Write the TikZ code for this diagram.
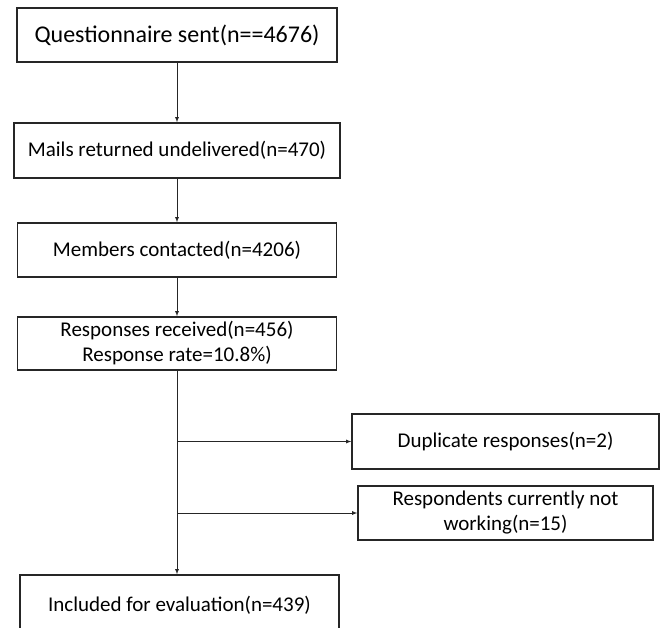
\documentclass[tikz,border=0pt]{standalone}
\usepackage{fontspec}
\setmainfont{Carlito}
\usepackage{tikz}
\usetikzlibrary{arrows,positioning}

\tikzset{
  flowbox/.style={draw=black!85, line width=1.4pt, rectangle, align=center,
    inner sep=2pt, font=\fontsize{21}{25}\selectfont},
  flowline/.style={draw=black!85, line width=0.8pt, -latex}
}

\begin{document}
\begin{tikzpicture}[x=1pt,y=-1pt]
				\useasboundingbox (0,0) rectangle (660,627);
				% main column
				\node[flowbox, minimum width=320pt, minimum height=54pt, font=\fontsize{24}{28}\selectfont] (sent) at (177,35) {Questionnaire sent(n==4676)};
				\node[flowbox, minimum width=326pt, minimum height=55pt] (mails) at (177,150.5) {Mails returned undelivered(n=470)};
				\node[flowbox, minimum width=319pt, minimum height=54pt] (contacted) at (177,250) {Members contacted(n=4206)};
				\node[flowbox, minimum width=319pt, minimum height=53pt] (received) at (177,343.5) {Responses received(n=456)\\Response rate=10.8\%)};
				\node[flowbox, minimum width=319pt, minimum height=60pt] (included) at (179.5,605) {Included for evaluation(n=439)};
				% excluded
				\node[flowbox, minimum width=307pt, minimum height=55pt] (duplicate) at (505.5,441.5) {Duplicate responses(n=2)};
				\node[flowbox, minimum width=295pt, minimum height=54pt] (notworking) at (505.5,513) {Respondents currently not\\working(n=15)};

				\coordinate (bot) at (received.south |- included.north);
				\coordinate (b1) at (received.south |- duplicate.west);
				\coordinate (b2) at (received.south |- notworking.west);

				\draw[flowline] (sent) -- (mails);
				\draw[flowline] (mails) -- (contacted);
				\draw[flowline] (contacted) -- (received);
				\draw[flowline] (received) -- (bot);
				\draw[flowline] (b1) -- (duplicate);
				\draw[flowline] (b2) -- (notworking);
			\end{tikzpicture}
\end{document}
